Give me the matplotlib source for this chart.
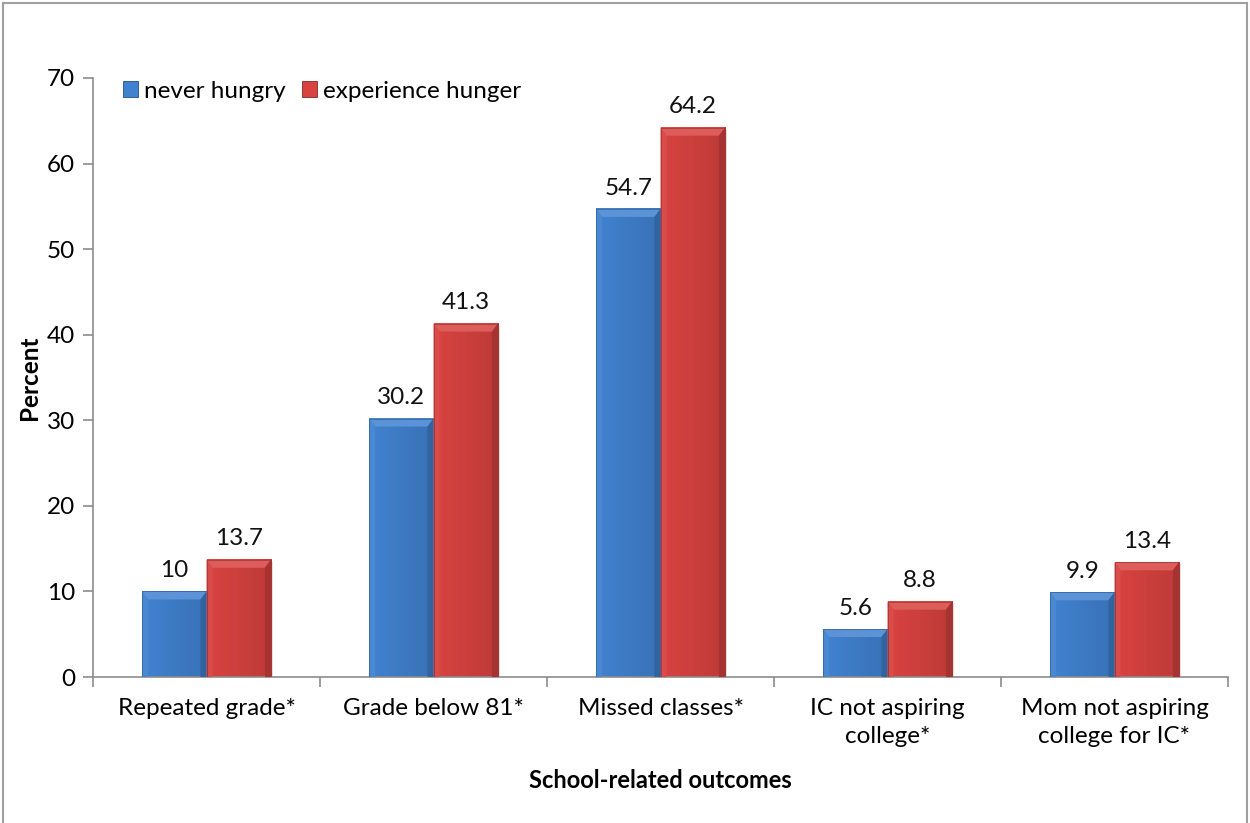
import numpy as np
import matplotlib
matplotlib.use("Agg")
import matplotlib.pyplot as plt
from matplotlib.patches import Polygon, Rectangle
from matplotlib.colors import to_rgb
from matplotlib.lines import Line2D

plt.rcParams['font.family'] = ['Lato', 'DejaVu Sans']

categories = ["Repeated grade*", "Grade below 81*", "Missed classes*",
              "IC not aspiring\ncollege*", "Mom not aspiring\ncollege for IC*"]
never_hungry = [10, 30.2, 54.7, 5.6, 9.9]
experience_hunger = [13.7, 41.3, 64.2, 8.8, 13.4]
value_labels_never = ["10", "30.2", "54.7", "5.6", "9.9"]
value_labels_hunger = ["13.7", "41.3", "64.2", "8.8", "13.4"]
series_names = ["never hungry", "experience hunger"]
yticks = [0, 10, 20, 30, 40, 50, 60, 70]

blue = "#4182D0"
red = "#D84340"
FS = 17.5

W, H = 1250, 823
fig = plt.figure(figsize=(W / 100, H / 100), dpi=100)
ax_l, ax_r, ax_t, ax_b = 93, 1228, 78, 677
ax = fig.add_axes([ax_l / W, 1 - ax_b / H, (ax_r - ax_l) / W, (ax_b - ax_t) / H])
ax.set_xlim(-0.5, 4.5)
ax.set_ylim(0, 70)

# data units per pixel, used for the bevel widths
dx = 5.0 / (ax_r - ax_l)
dy = 70.0 / (ax_b - ax_t)

bar_w = 0.284
off = bar_w / 2


def shade(c, f):
    r, g, b = to_rgb(c)
    if f >= 1:
        return tuple(min(1, v + (1 - v) * (f - 1)) for v in (r, g, b))
    return tuple(v * f for v in (r, g, b))


def bevel_bar(x0, h, color):
    x1 = x0 + bar_w
    # soft shadow on the right
    ax.add_patch(Rectangle((x1, 0), 2.5 * dx, h - 2 * dy, facecolor=(0, 0, 0, 0.12),
                           edgecolor='none', zorder=1.5))
    # body with gentle horizontal gradient
    grad = np.linspace(0, 1, 64)
    base = np.array(to_rgb(color))
    dark = np.array(shade(color, 0.82))
    prof = 1 - 0.7 * grad
    img = (base[None, :] * prof[:, None] + dark[None, :] * (1 - prof[:, None]))
    img = np.repeat(img[None, :, :], 2, axis=0)
    ax.imshow(img, extent=[x0, x1, 0, h], aspect='auto', zorder=2,
              interpolation='bilinear', origin='lower')
    bw = 6 * dx
    bh = min(8 * dy, h / 2)
    # top bevel (light)
    ax.add_patch(Polygon([[x0, h], [x1, h], [x1 - bw, h - bh], [x0 + bw, h - bh]],
                         closed=True, facecolor=shade(color, 1.14), edgecolor='none', zorder=3))
    # left bevel
    ax.add_patch(Polygon([[x0, 0], [x0, h], [x0 + bw, h - bh], [x0 + bw, 0]],
                         closed=True, facecolor=shade(color, 1.05), edgecolor='none', zorder=3))
    # right bevel (dark)
    ax.add_patch(Polygon([[x1, 0], [x1, h], [x1 - bw, h - bh], [x1 - bw, 0]],
                         closed=True, facecolor=shade(color, 0.76), edgecolor='none', zorder=3))
    ax.add_patch(Rectangle((x0, 0), bar_w, h, facecolor='none',
                           edgecolor=shade(color, 0.75), linewidth=0.5, zorder=4))


x = np.arange(len(categories))
for i in range(len(categories)):
    bevel_bar(x[i] - bar_w, never_hungry[i], blue)
    bevel_bar(x[i], experience_hunger[i], red)
    ax.text(x[i] - off, never_hungry[i] + 1.2, value_labels_never[i],
            ha='center', va='bottom', fontsize=FS, color='#111111')
    ax.text(x[i] + off, experience_hunger[i] + 1.2, value_labels_hunger[i],
            ha='center', va='bottom', fontsize=FS, color='#111111')

# axes styling
for s in ['top', 'right']:
    ax.spines[s].set_visible(False)
for s in ['left', 'bottom']:
    ax.spines[s].set_color('#8C8C8C')
    ax.spines[s].set_linewidth(1.2)

ax.set_yticks(yticks)
ax.set_yticklabels([str(v) for v in yticks], fontsize=FS)
ax.tick_params(axis='y', direction='out', length=7, color='#8C8C8C', width=1.2, pad=6)

ax.set_xticks(np.arange(-0.5, 5.0, 1.0), minor=False)
ax.set_xticklabels([])
ax.tick_params(axis='x', direction='out', length=7, color='#8C8C8C', width=1.2)
ax.set_xticks(x, minor=True)
ax.set_xticklabels(categories, minor=True, fontsize=FS, linespacing=1.45)
ax.tick_params(axis='x', which='minor', length=0, pad=15)
for lbl in ax.get_xticklabels(minor=True):
    lbl.set_verticalalignment('top')

ax.set_ylabel("Percent", fontsize=FS, fontweight='bold')
ax.yaxis.set_label_coords(-52 / (ax_r - ax_l), 0.5)
fig.text((ax_l + ax_r) / 2 / W, 1 - 781 / H, "School-related outcomes",
         ha='center', va='center', fontsize=FS - 0.5, fontweight='bold')

# legend
handles = [Rectangle((0, 0), 1, 1, facecolor=blue, edgecolor=shade(blue, 0.6), linewidth=0.6),
           Rectangle((0, 0), 1, 1, facecolor=red, edgecolor=shade(red, 0.6), linewidth=0.6)]
leg = ax.legend(handles, series_names, loc='upper left', ncol=2, frameon=False,
                fontsize=FS, handlelength=0.6, handleheight=0.6, handletextpad=0.25,
                columnspacing=0.7, bbox_to_anchor=(0.018, 1.012), borderaxespad=0)

# outer frame (left, top, right)
frame_c = '#A0A0A0'
fig.add_artist(Line2D([2.5 / W, 2.5 / W], [0, 1 - 2.5 / H], color=frame_c, lw=1.5, transform=fig.transFigure))
fig.add_artist(Line2D([2.5 / W, 1 - 3.5 / W], [1 - 2.5 / H, 1 - 2.5 / H], color=frame_c, lw=1.5, transform=fig.transFigure))
fig.add_artist(Line2D([1 - 3.5 / W, 1 - 3.5 / W], [0, 1 - 2.5 / H], color=frame_c, lw=1.5, transform=fig.transFigure))

fig.savefig("out.png", dpi=100)
